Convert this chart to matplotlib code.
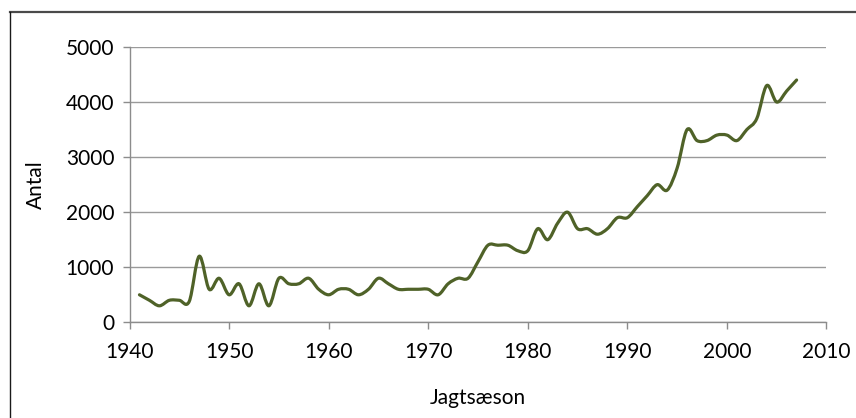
import numpy as np
import matplotlib
matplotlib.use("Agg")
import matplotlib.pyplot as plt
from matplotlib.path import Path
from matplotlib.patches import PathPatch
from matplotlib.lines import Line2D

plt.rcParams['font.family'] = ['Lato', 'DejaVu Sans']

years = list(range(1941, 2008))
antal = [500, 400, 300, 400, 400, 380, 1200, 600, 800, 500,
         700, 300, 700, 300, 800, 700, 700, 800, 600, 500,
         600, 600, 500, 600, 800, 700, 600, 600, 600, 600,
         500, 700, 800, 800, 1100, 1400, 1400, 1400, 1300, 1300,
         1700, 1500, 1800, 2000, 1700, 1700, 1600, 1700, 1900, 1900,
         2100, 2300, 2500, 2400, 2800, 3500, 3300, 3300, 3400, 3400,
         3300, 3500, 3700, 4300, 4000, 4200, 4400]

x_ticks = [1940, 1950, 1960, 1970, 1980, 1990, 2000, 2010]
y_ticks = [0, 1000, 2000, 3000, 4000, 5000]


def smooth_path(xs, ys):
    # Excel-style smoothed line: cubic bezier through the points
    p = np.column_stack([xs, ys]).astype(float)
    n = len(p)
    verts = [p[0]]
    codes = [Path.MOVETO]
    for i in range(n - 1):
        p0 = p[i - 1] if i > 0 else p[i]
        p1 = p[i]
        p2 = p[i + 1]
        p3 = p[i + 2] if i + 2 < n else p[i + 1]
        c1 = p1 + (p2 - p0) / 6.0
        c2 = p2 - (p3 - p1) / 6.0
        verts += [c1, c2, p2]
        codes += [Path.CURVE4] * 3
    return Path(verts, codes)


fig = plt.figure(figsize=(8.56, 4.18), dpi=100)
ax = fig.add_axes([0.1513, 0.2289, 0.8142, 0.6587])

patch = PathPatch(smooth_path(years, antal), facecolor='none',
                  edgecolor='#4f6228', lw=2.3, capstyle='round',
                  joinstyle='round')
ax.add_patch(patch)

ax.set_xlim(1940, 2010)
ax.set_ylim(0, 5000)
ax.set_xticks(x_ticks)
ax.set_yticks(y_ticks)
ax.yaxis.grid(True, color='#9a9a9a', lw=1.0)
ax.set_axisbelow(True)

for s in ['top', 'right']:
    ax.spines[s].set_visible(False)
for s in ['left', 'bottom']:
    ax.spines[s].set_color('#8c8c8c')
    ax.spines[s].set_linewidth(1.0)

ax.tick_params(axis='both', colors='#8c8c8c', length=5, width=1.0,
               labelsize=15, labelcolor='black')
ax.tick_params(axis='x', pad=9)
ax.tick_params(axis='y', pad=6)

ax.set_xlabel('Jagtsæson', fontsize=15, labelpad=19)
ax.set_ylabel('Antal', fontsize=15, labelpad=14)

# frame of the original chart area (only top and left edge visible)
fig.add_artist(Line2D([0.0117, 1.0], [0.9713, 0.9713], color='#4a4a4a',
                      lw=1.6, transform=fig.transFigure))
fig.add_artist(Line2D([0.0117, 0.0117], [0.0, 0.9713], color='#1a1a1a',
                      lw=1.0, transform=fig.transFigure))

fig.savefig('out.png', dpi=100)
